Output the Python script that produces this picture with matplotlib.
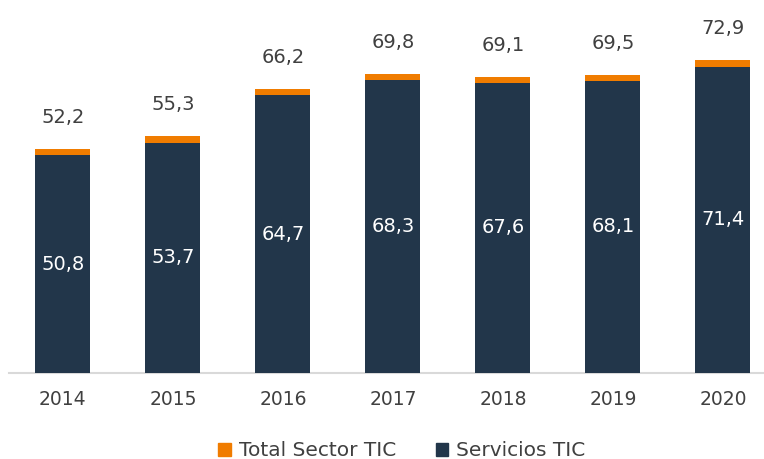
import matplotlib
matplotlib.use("Agg")
import matplotlib.pyplot as plt
from matplotlib.patches import Patch

years = ["2014", "2015", "2016", "2017", "2018", "2019", "2020"]
total_sector = [52.2, 55.3, 66.2, 69.8, 69.1, 69.5, 72.9]
servicios = [50.8, 53.7, 64.7, 68.3, 67.6, 68.1, 71.4]

navy = "#22364A"
orange = "#F07C00"
txt = "#404040"

plt.rcParams['font.family'] = ['DejaVu Sans']

fig = plt.figure(figsize=(7.64, 4.59), dpi=100)
W, H = 764, 459
x0, xl, xr = 9, -0.49, 6.49
px_per_unit = 110
ax_w = (xr - xl) * px_per_unit
ymax = 80
ppu_y = 4.29
ax_h = ymax * ppu_y
base = 373
ax = fig.add_axes([x0 / W, (H - base) / H, ax_w / W, ax_h / H])

x = list(range(len(years)))
ax.bar(x, total_sector, width=0.5, color=orange, zorder=2)
ax.bar(x, servicios, width=0.5, color=navy, zorder=3)

for i in x:
    ax.text(i, total_sector[i] + 7.3, f"{total_sector[i]:.1f}".replace(".", ","),
            ha="center", va="center", color=txt, fontsize=14)
    ax.text(i, servicios[i] / 2, f"{servicios[i]:.1f}".replace(".", ","),
            ha="center", va="center", color="white", fontsize=14, zorder=4)

ax.set_xlim(xl, xr)
ax.set_ylim(0, ymax)
ax.set_xticks(x)
ax.set_xticklabels(years, color=txt, fontsize=13.5)
ax.tick_params(axis="x", length=0, pad=12)
ax.set_yticks([])
for s in ["top", "right", "left"]:
    ax.spines[s].set_visible(False)
ax.spines["bottom"].set_color("#D9D9D9")
ax.spines["bottom"].set_linewidth(1.5)

handles = [Patch(color=orange, label="Total Sector TIC"),
           Patch(color=navy, label="Servicios TIC")]
fig.legend(handles=handles, loc="center", bbox_to_anchor=(402 / W, 1 - 451 / H),
           ncol=2, frameon=False, fontsize=14.5, handlelength=0.6, handleheight=0.6,
           handletextpad=0.4, columnspacing=2.0, labelcolor=txt)

fig.savefig("out.png", dpi=100)
